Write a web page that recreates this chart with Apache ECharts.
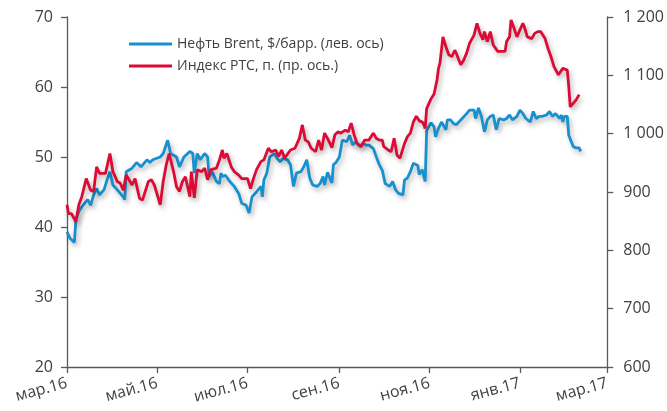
<!DOCTYPE html>
<html>
<head>
<meta charset="utf-8">
<script src="https://cdn.jsdelivr.net/npm/echarts@6/dist/echarts.min.js"></script>
<style>html,body{margin:0;padding:0;background:#fff}#c{width:667px;height:411px}</style>
</head>
<body>
<div id="c"></div>
<script>
// x = days since 1 Mar 2016
const tickDays = [0, 61, 122, 184, 245, 306, 365];
const tickLabels = ['мар.16', 'май.16', 'июл.16', 'сен.16', 'ноя.16', 'янв.17', 'мар.17'];
const leftTicks = [20, 30, 40, 50, 60, 70];
const rightTicks = [600, 700, 800, 900, 1000, 1100, 1200];
const seriesNames = ['Нефть Brent, $/барр. (лев. ось)', 'Индекс РТС, п. (пр. ось.)'];

const brentDays = [0,2,5,6,8,10,14,16,18,20,22,25,27,29,31,34,36,38,39,40,44,47,50,54,56,58,63,65,68,70,74,76,79,83,85,86,88,90,93,95,96,98,101,103,104,105,107,110,113,116,118,121,123,125,128,131,132,133,135,137,140,142,144,146,149,151,153,155,158,160,162,164,166,169,171,173,174,176,179,180,182,184,186,189,191,193,195,198,200,202,204,207,209,211,213,215,218,220,222,224,227,228,230,232,234,237,238,240,242,243,246,248,249,251,253,256,257,259,261,263,267,270,272,275,276,278,280,282,284,286,288,290,292,295,297,299,301,304,306,308,310,313,315,317,319,321,324,326,328,330,333,334,335,336,338,339,342,344,346,347];
const brentValues = [39.3,38.4,37.8,41,42.2,42.9,43.9,43.1,44.6,45.5,44.6,45.3,46.7,47.9,46,45.3,44.8,44.3,43.9,47.9,48.4,49.2,48.6,49.6,49.2,49.6,50,50.5,52.4,50.5,50,48.6,50,50.8,50.5,47.7,50.5,49.6,50.5,50,47.2,47.9,46.5,46.2,47.7,47.2,47.4,46.5,45.8,44.8,43.4,43.1,42,44.3,45,45.8,44.3,46.7,47.7,50,50.5,49.8,49.3,49.8,49.6,48.9,45.8,47.7,47.9,48.6,49.6,47,46,45.8,46.2,47.2,46,47.8,46.3,48.9,49.3,50,52.4,52.2,53.1,51.7,52.2,51.5,52,51.7,51.7,51.2,50,48.9,48.1,46.2,45.8,46.5,45.3,44.8,44.6,46.7,47,47.9,49.1,48.8,47.5,48.2,46.5,53.8,54.9,54.3,52.9,54.1,55,53.9,55.3,55.3,54.8,54.6,55.5,56.2,56.7,56.7,55.5,57,55.8,53.6,55.3,55.8,56,53.9,55.5,55.3,55.5,56,55.3,55.8,56.7,56.2,55.5,55,56.5,55.5,55.8,55.8,56,56.5,55.8,56.2,55.5,56,55,55.8,55.8,53.1,51.5,51.3,51.3,50.8];

const rtsDays = [0,1,3,6,8,10,13,16,18,20,22,26,29,31,34,36,38,40,44,46,49,51,55,57,59,63,65,67,69,72,74,76,78,80,83,84,86,88,91,93,95,97,101,103,105,106,108,111,113,116,118,122,124,126,128,131,133,136,138,141,143,145,147,151,154,157,159,161,163,165,168,170,172,174,176,179,181,183,185,188,190,192,194,196,199,201,204,207,209,211,213,214,217,219,221,223,225,228,230,232,234,236,238,240,241,242,243,246,248,249,250,251,252,254,256,258,260,262,263,266,268,270,272,275,277,279,281,282,284,286,288,289,291,294,296,297,299,300,302,304,306,308,309,311,314,316,318,320,323,325,327,329,332,333,335,338,339,340,342,344,346];
const rtsValues = [878,863,863,849,878,892,923,903,901,943,932,932,966,935,918,915,903,929,912,923,889,886,918,921,912,878,918,946,966,935,909,901,918,926,892,935,890,938,935,941,921,938,941,955,972,958,966,943,935,929,923,923,906,923,938,952,955,975,969,972,961,972,958,972,975,992,1015,989,986,975,969,989,972,1001,992,976,998,1003,1001,1006,1003,1018,998,983,978,989,989,1001,992,989,989,978,972,969,992,963,958,983,995,1001,1020,1030,1022,1020,1016,1009,1043,1060,1068,1067,1092,1112,1121,1166,1149,1135,1132,1143,1138,1118,1126,1138,1155,1169,1189,1172,1161,1175,1158,1175,1152,1155,1141,1141,1141,1158,1166,1195,1181,1166,1178,1189,1183,1166,1163,1172,1175,1175,1163,1146,1132,1115,1101,1104,1112,1109,1081,1046,1052,1058,1067];

const zip = (a, b) => a.map((d, i) => [d, b[i]]);
const FONT = 'Open Sans';
const TXT = '#404040';
const AX = '#595959';
const BLUE = '#1790cf';
const RED = '#dc0a35';
const shadow = { shadowColor: 'rgba(0,0,0,0.3)', shadowBlur: 5, shadowOffsetX: 2, shadowOffsetY: 3 };

const chart = echarts.init(document.getElementById('c'));
chart.setOption({
  animation: false,
  backgroundColor: '#ffffff',
  textStyle: { fontFamily: FONT },
  grid: { left: 67, right: 56, top: 17, bottom: 44, containLabel: false },
  legend: {
    left: 124, top: 32, orient: 'vertical', icon: 'rect', itemWidth: 43, itemHeight: 3, itemGap: 8,
    textStyle: { fontFamily: FONT, fontSize: 14, color: TXT },
    data: seriesNames
  },
  xAxis: {
    type: 'value', min: 0, max: 365,
    axisLine: { show: true, lineStyle: { color: AX, width: 1.3 } },
    axisTick: { show: true, customValues: tickDays, length: 6, lineStyle: { color: AX, width: 1.3 } },
    axisLabel: {
      customValues: tickDays, rotate: 15, margin: 16, fontSize: 16, color: TXT, fontFamily: FONT,
      formatter: v => tickLabels[tickDays.indexOf(v)] || ''
    },
    splitLine: { show: false }
  },
  yAxis: [
    {
      type: 'value', min: leftTicks[0], max: leftTicks[leftTicks.length - 1], interval: 10,
      axisLine: { show: true, lineStyle: { color: AX, width: 1.3 } },
      axisTick: { show: true, length: 6, lineStyle: { color: AX, width: 1.3 } },
      axisLabel: { fontSize: 16, color: TXT, margin: 14, fontFamily: FONT },
      splitLine: { show: false }
    },
    {
      type: 'value', min: rightTicks[0], max: rightTicks[rightTicks.length - 1], interval: 100,
      position: 'right',
      axisLine: { show: true, lineStyle: { color: AX, width: 1.3 } },
      axisTick: { show: true, length: 6, lineStyle: { color: AX, width: 1.3 } },
      axisLabel: {
        fontSize: 16, color: TXT, margin: 16, fontFamily: FONT,
        formatter: v => v >= 1000 ? Math.floor(v / 1000) + ' ' + String(v % 1000).padStart(3, '0') : String(v)
      },
      splitLine: { show: false }
    }
  ],
  series: [
    {
      name: seriesNames[0], type: 'line', yAxisIndex: 0, symbol: 'none', showSymbol: false,
      data: zip(brentDays, brentValues),
      lineStyle: Object.assign({ color: BLUE, width: 2.8 }, shadow),
      itemStyle: { color: BLUE }
    },
    {
      name: seriesNames[1], type: 'line', yAxisIndex: 1, symbol: 'none', showSymbol: false,
      data: zip(rtsDays, rtsValues),
      lineStyle: Object.assign({ color: RED, width: 2.8 }, shadow),
      itemStyle: { color: RED }
    }
  ]
});
</script>
</body>
</html>
